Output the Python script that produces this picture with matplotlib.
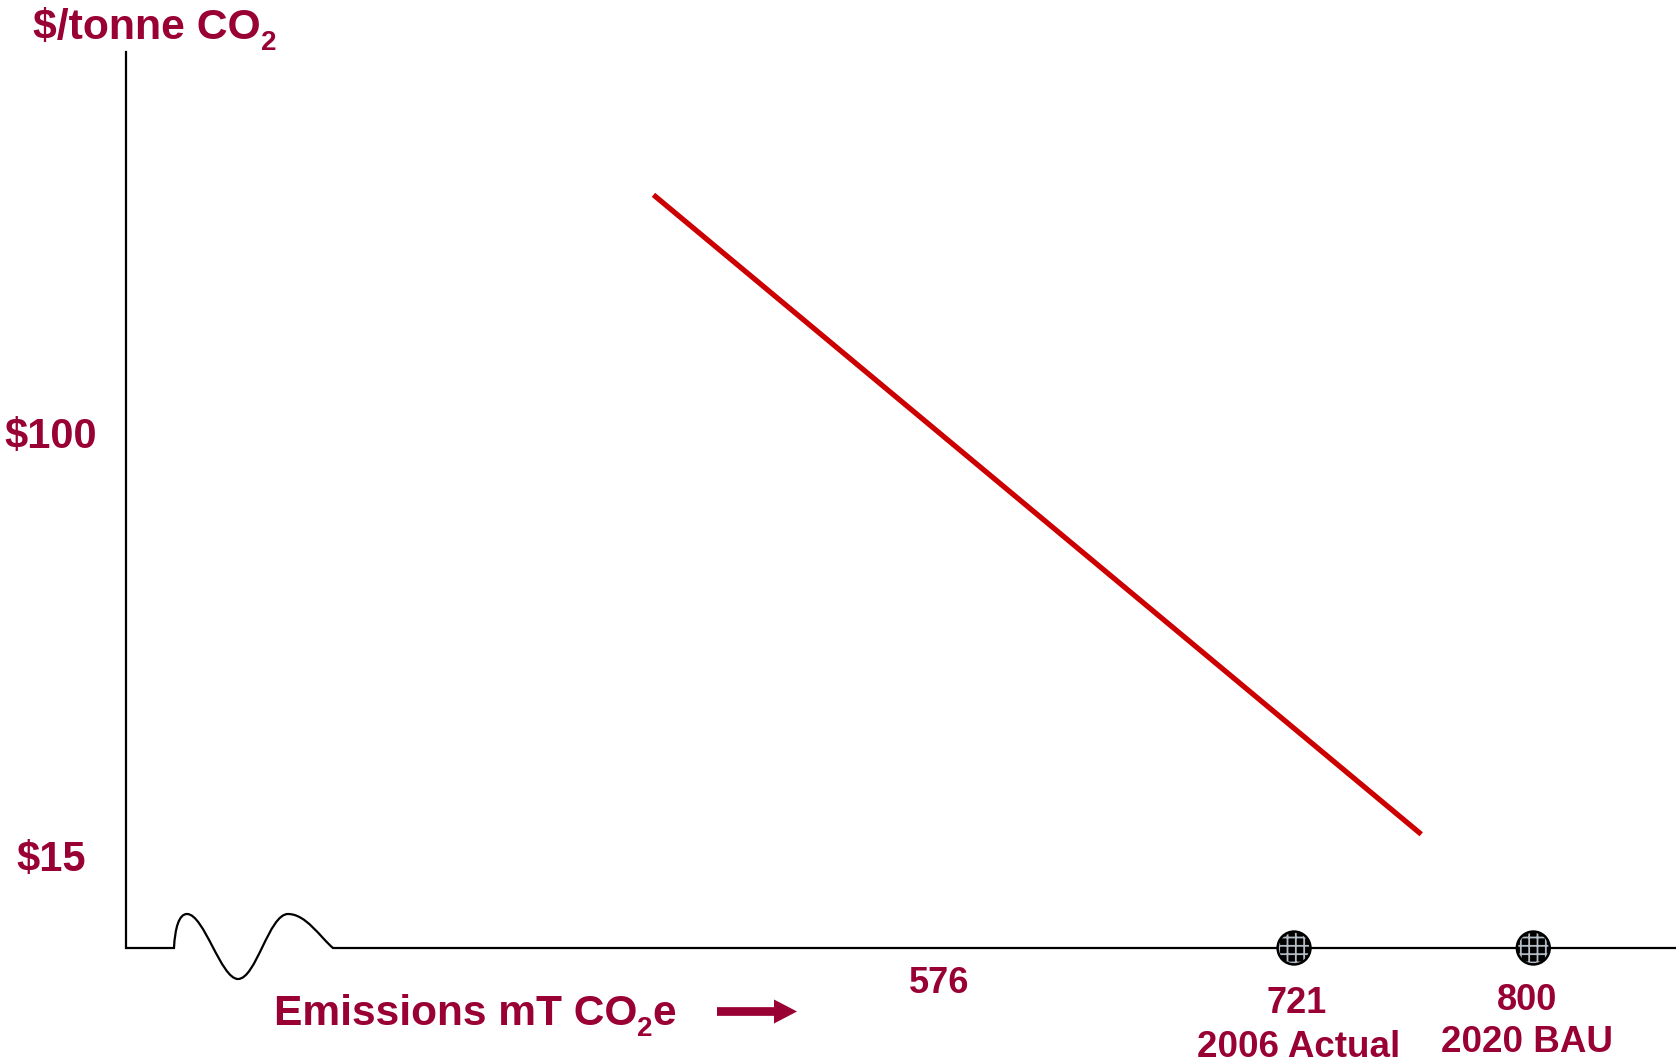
import numpy as np
import matplotlib
matplotlib.use("Agg")
import matplotlib.pyplot as plt
from matplotlib.path import Path
import matplotlib.patches as mpatches

plt.rcParams['font.family'] = ['Liberation Sans', 'DejaVu Sans']
plt.rcParams['font.weight'] = 'bold'
plt.rcParams['hatch.color'] = '#b4bcc6'
plt.rcParams['hatch.linewidth'] = 1.3

# data
emission_ticks = [576, 721, 800]
emission_notes = ['', '2006 Actual', '2020 BAU']
marked_points = [721, 800]
price_ticks = [15, 100]
price_labels = ['$15', '$100']
curve_emissions = [459, 763]
curve_price = [147.8, 19.3]

MAROON = '#990033'
RED = '#cc0000'

W, H = 1681, 1063
fig = plt.figure(figsize=(W / 100, H / 100), dpi=100)
# axes box in pixels: left 126.5, right 1676, top 51.5, bottom 948
ax = fig.add_axes([126.5 / W, 1 - 948 / H, (1676 - 126.5) / W, (948 - 51.5) / H])

# schematic x axis: tick spots are not evenly spaced, so piecewise scale
brk = np.array(emission_ticks, dtype=float)
frac = np.array([0.5247, 0.7535, 0.9079])
s_lo = (frac[1] - frac[0]) / (brk[1] - brk[0])
s_hi = (frac[2] - frac[1]) / (brk[2] - brk[1])


def fwd(e):
    e = np.asarray(e, dtype=float)
    lo = frac[0] + (e - brk[0]) * s_lo
    hi = frac[-1] + (e - brk[-1]) * s_hi
    return np.where(e < brk[0], lo, np.where(e > brk[-1], hi, np.interp(e, brk, frac)))


def inv(u):
    u = np.asarray(u, dtype=float)
    lo = brk[0] + (u - frac[0]) / s_lo
    hi = brk[-1] + (u - frac[-1]) / s_hi
    return np.where(u < frac[0], lo, np.where(u > frac[-1], hi, np.interp(u, frac, brk)))


ax.set_xscale('function', functions=(fwd, inv))
ax.set_xlim(float(inv(0.0)), float(inv(1.0)))
ax.set_ylim(-3.55, 176.6)

for side in ['top', 'right', 'bottom']:
    ax.spines[side].set_visible(False)
ax.spines['left'].set_linewidth(1.6)
ax.set_xticks([])
ax.set_yticks(price_ticks)
ax.set_yticklabels(price_labels, ha='center')
ax.tick_params(axis='y', length=0, pad=54.5, labelsize=30, labelcolor=MAROON)

# demand line
ax.plot(curve_emissions, curve_price, color=RED, lw=3.8, solid_capstyle='butt')

# x axis with the break squiggle (pixel points -> axes fraction)
def px(x, y):
    return ((x - 126.5) / (1676 - 126.5), (948 - y) / (948 - 51.5))

verts = [px(126.5, 948), px(174, 948),
         px(175, 928), px(179, 914), px(187, 914),
         px(204, 914), px(221, 979), px(238, 979),
         px(256, 979), px(269, 914), px(288, 914),
         px(306, 914), px(320, 937), px(333, 948),
         px(1676, 948)]
codes = [Path.MOVETO, Path.LINETO,
         Path.CURVE4, Path.CURVE4, Path.CURVE4,
         Path.CURVE4, Path.CURVE4, Path.CURVE4,
         Path.CURVE4, Path.CURVE4, Path.CURVE4,
         Path.CURVE4, Path.CURVE4, Path.CURVE4,
         Path.LINETO]
axis_line = mpatches.PathPatch(Path(verts, codes), fill=False, lw=1.6, ec='black',
                               transform=ax.transAxes, clip_on=False)
ax.add_patch(axis_line)

# hatched markers on the axis
xt = ax.get_xaxis_transform()
ax.scatter(marked_points, [0] * len(marked_points), transform=xt, s=560, marker='o',
           facecolor='black', edgecolor='#b4bcc6', hatch='++', lw=0, clip_on=False, zorder=5)
ax.scatter(marked_points, [0] * len(marked_points), transform=xt, s=560, marker='o',
           facecolor='none', edgecolor='black', lw=1.8, clip_on=False, zorder=6)

# tick values and notes under the axis
value_offsets = [(0, -32.6), (2.2, -46.6), (-4.3, -44.6)]
note_offsets = [(0, 0), (3, -78.3), (-4.8, -74.7)]
for v, note, vo, no in zip(emission_ticks, emission_notes, value_offsets, note_offsets):
    ax.annotate(str(v), xy=(v, 0), xycoords=xt, xytext=vo, textcoords='offset points',
                ha='center', va='baseline', fontsize=26, color=MAROON, annotation_clip=False)
    if note:
        ax.annotate(note, xy=(v, 0), xycoords=xt, xytext=no, textcoords='offset points',
                    ha='center', va='baseline', fontsize=26.5, color=MAROON, annotation_clip=False)

# axis titles, subscripts placed by hand (dropped lower than mathtext does)
t1 = fig.text(33 / W, 1 - 39.5 / H, '$/tonne CO', fontsize=30.8, color=MAROON,
              ha='left', va='baseline')
ax.annotate('2', xy=(1, H - 50), xycoords=(t1, 'figure pixels'), fontsize=20,
            color=MAROON, ha='left', va='baseline', annotation_clip=False)

t2 = fig.text(274 / W, 1 - 1025 / H, 'Emissions mT CO', fontsize=30.6, color=MAROON,
              ha='left', va='baseline')
sub2 = ax.annotate('2', xy=(1, H - 1036), xycoords=(t2, 'figure pixels'), fontsize=20,
                   color=MAROON, ha='left', va='baseline', annotation_clip=False)
ax.annotate('e', xy=(1, H - 1025), xycoords=(sub2, 'figure pixels'), fontsize=30.6,
            color=MAROON, ha='left', va='baseline', annotation_clip=False)

arrow = mpatches.FancyArrow(7.17, (H - 1011.5) / 100, 0.80, 0, width=0.087,
                            head_width=0.24, head_length=0.23, length_includes_head=True,
                            color=MAROON, lw=0, transform=fig.dpi_scale_trans)
fig.add_artist(arrow)

fig.savefig('out.png', dpi=100)
